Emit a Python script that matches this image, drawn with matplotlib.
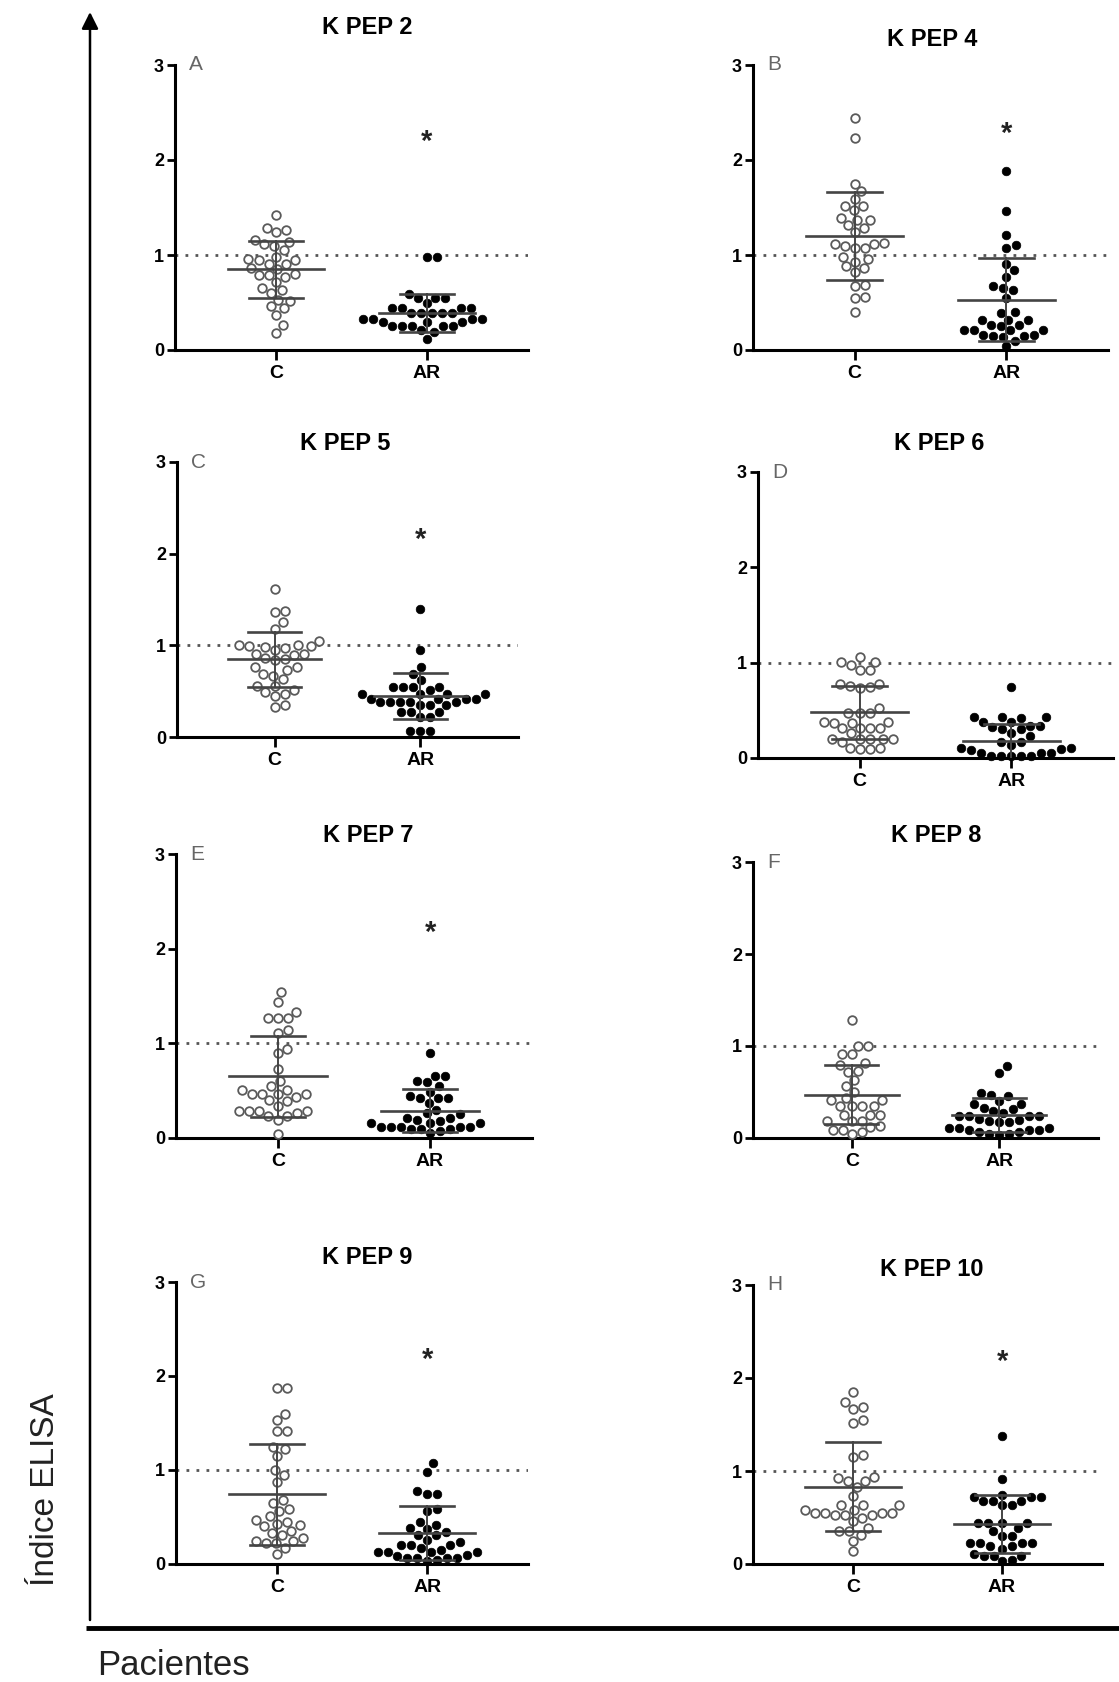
import numpy as np
import matplotlib
matplotlib.use('Agg')
import matplotlib.pyplot as plt

plt.rcParams['font.family'] = ['Liberation Sans', 'DejaVu Sans']

# values (ELISA index)
kpep2_c = [1.42, 1.26, 1.28, 1.24, 1.12, 1.14, 1.16, 1.09, 1.05, 0.98, 0.96, 0.95, 0.95, 0.91, 0.91, 0.86,
           0.85, 0.79, 0.79, 0.80, 0.77, 0.72, 0.65, 0.63, 0.60, 0.53, 0.52, 0.46, 0.44, 0.37, 0.26, 0.18]
kpep2_ar = [0.98, 0.98, 0.59, 0.55, 0.55, 0.55, 0.49, 0.44, 0.44, 0.44, 0.44, 0.39, 0.39, 0.39, 0.39, 0.39,
            0.33, 0.33, 0.33, 0.33, 0.30, 0.30, 0.30, 0.25, 0.25, 0.25, 0.25, 0.25, 0.21, 0.19, 0.12]
kpep4_c = [2.44, 2.23, 1.75, 1.67, 1.59, 1.52, 1.52, 1.47, 1.39, 1.37, 1.37, 1.32, 1.28, 1.24, 1.12, 1.13,
           1.12, 1.09, 1.07, 1.07, 0.98, 0.96, 0.93, 0.88, 0.86, 0.82, 0.68, 0.67, 0.56, 0.55, 0.40]
kpep4_ar = [1.88, 1.46, 1.21, 1.11, 1.07, 0.91, 0.84, 0.77, 0.67, 0.65, 0.63, 0.55, 0.39, 0.40, 0.32, 0.32,
            0.32, 0.26, 0.26, 0.25, 0.21, 0.21, 0.21, 0.21, 0.16, 0.15, 0.15, 0.14, 0.16, 0.09, 0.04]
kpep5_c = [1.62, 1.37, 1.36, 1.25, 1.18, 1.05, 1.00, 0.97, 0.95, 0.98, 0.99, 0.99, 1.00, 0.91, 0.91, 0.90,
           0.85, 0.86, 0.84, 0.76, 0.76, 0.73, 0.67, 0.69, 0.63, 0.56, 0.56, 0.51, 0.49, 0.47, 0.45, 0.35, 0.33]
kpep5_ar = [1.40, 0.95, 0.76, 0.69, 0.62, 0.55, 0.55, 0.55, 0.55, 0.51, 0.47, 0.47, 0.47, 0.47, 0.42, 0.42,
            0.42, 0.42, 0.38, 0.38, 0.38, 0.38, 0.38, 0.35, 0.35, 0.35, 0.27, 0.27, 0.27, 0.22, 0.22, 0.07, 0.07, 0.07]
kpep6_c = [1.06, 1.01, 1.01, 0.98, 0.92, 0.92, 0.78, 0.76, 0.74, 0.78, 0.73, 0.52, 0.47, 0.47, 0.47, 0.38,
           0.38, 0.37, 0.37, 0.31, 0.31, 0.31, 0.31, 0.26, 0.20, 0.20, 0.20, 0.20, 0.20, 0.17, 0.10, 0.10, 0.09, 0.09]
kpep6_ar = [0.75, 0.43, 0.43, 0.43, 0.42, 0.38, 0.38, 0.34, 0.34, 0.33, 0.30, 0.30, 0.26, 0.23, 0.17, 0.17,
            0.14, 0.10, 0.10, 0.09, 0.08, 0.05, 0.05, 0.05, 0.02, 0.02, 0.02, 0.02, 0.02]
kpep7_c = [1.54, 1.44, 1.33, 1.27, 1.27, 1.27, 1.11, 1.14, 0.94, 0.90, 0.73, 0.60, 0.55, 0.51, 0.51, 0.47,
           0.47, 0.47, 0.47, 0.43, 0.40, 0.39, 0.34, 0.28, 0.28, 0.28, 0.28, 0.26, 0.23, 0.23, 0.19, 0.04]
kpep7_ar = [0.90, 0.66, 0.65, 0.60, 0.59, 0.55, 0.49, 0.44, 0.42, 0.42, 0.42, 0.37, 0.30, 0.25, 0.26, 0.21,
            0.21, 0.19, 0.18, 0.16, 0.16, 0.16, 0.12, 0.12, 0.12, 0.12, 0.12, 0.10, 0.09, 0.09, 0.07, 0.05]
kpep8_c = [1.28, 1.00, 1.00, 0.91, 0.91, 0.81, 0.79, 0.73, 0.72, 0.63, 0.56, 0.50, 0.44, 0.41, 0.41, 0.35,
           0.35, 0.35, 0.35, 0.25, 0.25, 0.25, 0.18, 0.18, 0.18, 0.13, 0.12, 0.09, 0.09, 0.06, 0.04]
kpep8_ar = [0.78, 0.71, 0.49, 0.47, 0.46, 0.40, 0.37, 0.37, 0.33, 0.31, 0.27, 0.29, 0.24, 0.24, 0.24, 0.24,
            0.21, 0.20, 0.18, 0.17, 0.17, 0.11, 0.11, 0.11, 0.09, 0.09, 0.09, 0.07, 0.06, 0.04, 0.04, 0.03]
kpep9_c = [1.87, 1.87, 1.60, 1.53, 1.41, 1.41, 1.25, 1.22, 1.15, 1.00, 0.95, 0.87, 0.68, 0.65, 0.58, 0.56,
           0.51, 0.47, 0.45, 0.43, 0.41, 0.40, 0.35, 0.33, 0.31, 0.28, 0.25, 0.24, 0.22, 0.22, 0.17, 0.11]
kpep9_ar = [1.07, 0.98, 0.78, 0.75, 0.75, 0.58, 0.56, 0.45, 0.42, 0.38, 0.37, 0.34, 0.31, 0.31, 0.26, 0.23,
            0.20, 0.20, 0.20, 0.17, 0.15, 0.13, 0.13, 0.13, 0.13, 0.10, 0.09, 0.06, 0.06, 0.06, 0.06, 0.04, 0.03]
kpep10_c = [1.85, 1.74, 1.69, 1.67, 1.55, 1.52, 1.17, 1.15, 0.94, 0.92, 0.89, 0.89, 0.83, 0.73, 0.63, 0.63,
            0.63, 0.58, 0.58, 0.55, 0.55, 0.55, 0.55, 0.53, 0.53, 0.53, 0.50, 0.46, 0.39, 0.35, 0.36, 0.31, 0.25, 0.14]
kpep10_ar = [1.38, 0.91, 0.74, 0.72, 0.72, 0.72, 0.68, 0.68, 0.68, 0.63, 0.63, 0.44, 0.44, 0.44, 0.44, 0.39,
             0.35, 0.30, 0.30, 0.23, 0.23, 0.23, 0.23, 0.19, 0.19, 0.16, 0.11, 0.09, 0.09, 0.09, 0.04, 0.03]

titles = ['K PEP 2', 'K PEP 4', 'K PEP 5', 'K PEP 6', 'K PEP 7', 'K PEP 8', 'K PEP 9', 'K PEP 10']
letters = ['A', 'B', 'C', 'D', 'E', 'F', 'G', 'H']
groups = ['C', 'AR']
# mean and SD bars as drawn
c_mean = [0.85, 1.20, 0.85, 0.48, 0.65, 0.47, 0.74, 0.83]
c_sd = [0.30, 0.46, 0.30, 0.28, 0.43, 0.32, 0.54, 0.48]
ar_mean = [0.39, 0.53, 0.45, 0.18, 0.29, 0.25, 0.33, 0.43]
ar_sd = [0.20, 0.44, 0.25, 0.18, 0.23, 0.19, 0.29, 0.31]
star_y = [2.28, 2.37, 2.24, None, 2.26, None, 2.26, 2.27]
cutoff = 1.0

c_data = [kpep2_c, kpep4_c, kpep5_c, kpep6_c, kpep7_c, kpep8_c, kpep9_c, kpep10_c]
ar_data = [kpep2_ar, kpep4_ar, kpep5_ar, kpep6_ar, kpep7_ar, kpep8_ar, kpep9_ar, kpep10_ar]

W, H = 1119, 1682
# axes boxes in pixels: left, top (y=3), right, bottom (y=0)
boxes = [(175, 65, 528, 350), (753, 65, 1108, 350),
         (177, 462, 518, 737), (758, 472, 1113, 758),
         (176, 854, 532, 1138), (753, 862, 1098, 1138),
         (176, 1282, 528, 1564), (753, 1285, 1102, 1564)]
title_pos = [(367, 27), (932, 40), (345, 443), (939, 443),
             (368, 835), (936, 835), (367, 1258), (932, 1270)]


def swarm(ax, vals, xc, d=10.0):
    tr = ax.transData
    p0 = tr.transform((0, 0))
    sx = tr.transform((1, 0))[0] - p0[0]
    sy = tr.transform((0, 1))[1] - p0[1]
    ys = np.asarray(vals) * sy
    offs = np.zeros(len(ys))
    placed = []
    for i in np.argsort(ys):
        y = ys[i]
        cands = [0.0]
        for k in range(1, 200):
            cands += [k * 0.5, -k * 0.5]
        for c in cands:
            if all((c - px) ** 2 + (y - py) ** 2 >= d * d for px, py in placed):
                break
        placed.append((c, y))
        offs[i] = c / sx
    return xc + offs


fig = plt.figure(figsize=(W / 100, H / 100), dpi=100)

# overlay for the shared axis arrow, base line and big labels
bg = fig.add_axes([0, 0, 1, 1])
bg.set_xlim(0, W)
bg.set_ylim(H, 0)
bg.axis('off')
bg.annotate('', xy=(90, 12), xytext=(90, 1620),
            arrowprops=dict(arrowstyle='-|>,head_length=0.5,head_width=0.25', lw=1.8,
                            color='black', mutation_scale=20, shrinkA=0, shrinkB=0))
bg.plot([86, W], [1628, 1628], color='black', lw=3.5, solid_capstyle='butt')
bg.text(54, 1490, 'Índice ELISA', rotation=90, rotation_mode='anchor', ha='center',
        va='baseline', fontsize=24, color='#222222')
bg.text(97, 1675, 'Pacientes', ha='left', va='baseline', fontsize=25, color='#222222')

for i in range(8):
    l, t, r, b = boxes[i]
    ax = fig.add_axes([l / W, 1 - b / H, (r - l) / W, (b - t) / H])
    ax.set_xlim(0.33, 2.67)
    ax.set_ylim(0, 3)
    for s in ['top', 'right']:
        ax.spines[s].set_visible(False)
    for s in ['left', 'bottom']:
        ax.spines[s].set_linewidth(2.2)
    ax.set_yticks([0, 1, 2, 3])
    ax.set_xticks([1, 2])
    ax.set_xticklabels(groups, fontsize=14, fontweight='bold')
    ax.tick_params(axis='y', length=6, width=2, labelsize=13, pad=2)
    ax.tick_params(axis='x', length=7, width=2, pad=4)
    for lab in ax.get_yticklabels():
        lab.set_fontweight('bold')

    ax.axhline(cutoff, color='#555555', lw=2.0, ls=(0, (1, 2.6)), zorder=1)

    xc = swarm(ax, c_data[i], 1)
    ax.plot(xc, c_data[i], 'o', ms=6.2, mfc='white', mec='#5a5a5a', mew=1.3,
            clip_on=False, zorder=3)
    xa = swarm(ax, ar_data[i], 2)
    ax.plot(xa, ar_data[i], 'o', ms=6.2, mfc='black', mec='black', mew=0.5,
            clip_on=False, zorder=3)

    for xg, m, s in [(1, c_mean[i], c_sd[i]), (2, ar_mean[i], ar_sd[i])]:
        lo = max(m - s, 0)
        ax.plot([xg - 0.32, xg + 0.32], [m, m], color='#444444', lw=1.9, zorder=4)
        ax.plot([xg, xg], [lo, m + s], color='#444444', lw=1.4, zorder=4)
        ax.plot([xg - 0.18, xg + 0.18], [m + s, m + s], color='#444444', lw=1.9, zorder=4)
        if m - s > 0.02:
            ax.plot([xg - 0.18, xg + 0.18], [lo, lo], color='#444444', lw=1.9, zorder=4)

    if star_y[i] is not None:
        ax.annotate('*', xy=(2, star_y[i]), xytext=(0, -12), textcoords='offset points',
                    ha='center', va='baseline', fontsize=21, fontweight='bold',
                    color='#222222')

    ax.annotate(letters[i], xy=(0, 1), xycoords='axes fraction', xytext=(10, 0),
                textcoords='offset points', ha='left', va='center', fontsize=15,
                color='#666666')

    tx, ty = title_pos[i]
    fig.text(tx / W, 1 - ty / H, titles[i], ha='center', va='center', fontsize=17,
             fontweight='bold')

fig.savefig('out.png', dpi=100)
